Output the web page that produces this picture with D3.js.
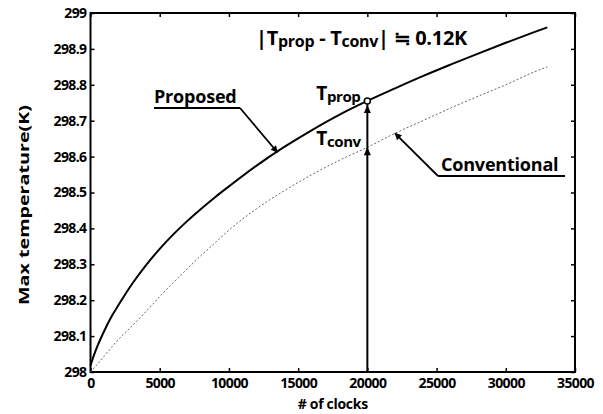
<!DOCTYPE html>
<html>
<head>
<meta charset="utf-8">
<script src="https://cdn.jsdelivr.net/npm/d3@7"></script>
<style>
  body { margin: 0; background: #fff; }
  text { font-family: "Open Sans", sans-serif; font-weight: bold; fill: #000; }
</style>
</head>
<body>
<div id="chart"></div>
<script>
// data
let clocks = [0, 250, 500, 1000, 1500, 2000, 3000, 4000, 5000, 6000, 7000, 8000, 9000, 10000,
  12000, 14000, 16000, 18000, 20000, 22000, 24000, 26000, 28000, 30000, 32000, 33000];
let proposed = [298.018, 298.047, 298.072, 298.115, 298.153, 298.185, 298.245, 298.297, 298.343, 298.384,
  298.421, 298.455, 298.487, 298.517, 298.575, 298.627, 298.674, 298.717, 298.755, 298.79,
  298.824, 298.856, 298.887, 298.917, 298.946, 298.96];
let conventional = [298.0, 298.011, 298.022, 298.045, 298.068, 298.09, 298.128, 298.168, 298.21, 298.25,
  298.288, 298.325, 298.36, 298.395, 298.455, 298.505, 298.55, 298.59, 298.626, 298.665,
  298.70, 298.735, 298.768, 298.80, 298.835, 298.85];
let xTicks = [0, 5000, 10000, 15000, 20000, 25000, 30000, 35000];
let yTicks = [298, 298.1, 298.2, 298.3, 298.4, 298.5, 298.6, 298.7, 298.8, 298.9, 299];
let markClock = 20000;
let tProp = 298.755;
let tConv = 298.626;

let w = 603, h = 414;
let padLeft = 90.5, padRight = 575, padTop = 13, padBottom = 372;

let viz = d3.select("#chart")
  .append("svg")
  .attr("width", w)
  .attr("height", h)
;

let xScale = d3.scaleLinear().domain([0, 35000]).range([padLeft, padRight]);
let yScale = d3.scaleLinear().domain([298, 299]).range([padBottom, padTop]);

// arrow heads
let defs = viz.append("defs");
defs.append("marker")
  .attr("id", "arrow")
  .attr("viewBox", "0 0 10 10")
  .attr("refX", 9).attr("refY", 5)
  .attr("markerWidth", 9).attr("markerHeight", 7)
  .attr("markerUnits", "userSpaceOnUse")
  .attr("orient", "auto")
  .append("path")
  .attr("d", "M0,0 L10,5 L0,10 Z")
  .attr("fill", "#000");

// ticks, pointing inward, on all four sides
let xAxis = d3.axisBottom(xScale).tickValues(xTicks).tickSize(-4).tickPadding(6).tickFormat(d3.format("d"));
let xAxisGroup = viz.append("g").attr("class", "xaxis")
  .attr("transform", "translate(0," + padBottom + ")")
  .call(xAxis);
let yAxis = d3.axisLeft(yScale).tickValues(yTicks).tickSize(-4).tickPadding(4)
  .tickFormat(function(d){ return d3.format(".1f")(d).replace(/\.0$/, ""); });
let yAxisGroup = viz.append("g").attr("class", "yaxis")
  .attr("transform", "translate(" + padLeft + ",0)")
  .call(yAxis);
let xTop = viz.append("g")
  .attr("transform", "translate(0," + padTop + ")")
  .call(d3.axisTop(xScale).tickValues(xTicks).tickSize(-4).tickFormat(""));
let yRight = viz.append("g")
  .attr("transform", "translate(" + padRight + ",0)")
  .call(d3.axisRight(yScale).tickValues(yTicks).tickSize(-4).tickFormat(""));

viz.selectAll(".domain").remove();
viz.selectAll(".tick line").attr("stroke", "#000").attr("stroke-width", 1.5);
viz.selectAll(".xaxis text, .yaxis text")
  .style("font-size", "14px")
  .style("letter-spacing", "-0.6px")
  .attr("fill", "#000");

// frame
viz.append("rect")
  .attr("x", padLeft).attr("y", padTop)
  .attr("width", padRight - padLeft).attr("height", padBottom - padTop)
  .attr("fill", "none")
  .attr("stroke", "#000")
  .attr("stroke-width", 2);

let rows = clocks.map(function(c, i){
  return { c: c, p: proposed[i], v: conventional[i] };
});

let lineProp = d3.line()
  .x(function(d){ return xScale(d.c); })
  .y(function(d){ return yScale(d.p); })
  .curve(d3.curveMonotoneX);
let lineConv = d3.line()
  .x(function(d){ return xScale(d.c); })
  .y(function(d){ return yScale(d.v); })
  .curve(d3.curveMonotoneX);

viz.append("path")
  .datum(rows)
  .attr("d", lineConv)
  .attr("fill", "none")
  .attr("stroke", "#666")
  .attr("stroke-width", 1)
  .attr("stroke-dasharray", "2,2");

viz.append("path")
  .datum(rows)
  .attr("d", lineProp)
  .attr("fill", "none")
  .attr("stroke", "#000")
  .attr("stroke-width", 2);

// vertical marker line at 20000 clocks
let mx = xScale(markClock);
viz.append("line")
  .attr("x1", mx).attr("x2", mx)
  .attr("y1", yScale(298)).attr("y2", yScale(tProp) + 3)
  .attr("stroke", "#000")
  .attr("stroke-width", 2);
viz.append("circle")
  .attr("cx", mx).attr("cy", yScale(tProp))
  .attr("r", 3)
  .attr("fill", "#fff")
  .attr("stroke", "#000")
  .attr("stroke-width", 1.5);
[tProp, tConv].forEach(function(t, i){
  let y = yScale(t) + (i == 0 ? 4 : 0);
  viz.append("path")
    .attr("d", "M" + mx + "," + y + " L" + (mx - 3.5) + "," + (y + 8) + " L" + (mx + 3.5) + "," + (y + 8) + " Z")
    .attr("fill", "#000");
});

// T labels with subscripts
function tLabel(x, y, sub){
  let t = viz.append("text")
    .attr("x", x).attr("y", y)
    .style("font-size", "19px")
    .style("letter-spacing", "-0.4px");
  t.append("tspan").text("T");
  t.append("tspan").attr("dy", 2).style("font-size", "15px").text(sub);
  return t;
}
tLabel(mx - 51, 100, "prop");
tLabel(mx - 51, 145, "conv");

// formula at top
let f = viz.append("text")
  .attr("x", 256).attr("y", 45)
  .style("font-size", "20px")
  .style("letter-spacing", "-0.3px");
f.append("tspan").text("|T");
f.append("tspan").attr("dy", 2).style("font-size", "16px").text("prop");
f.append("tspan").attr("dy", -2).text(" - T");
f.append("tspan").attr("dy", 2).style("font-size", "16px").text("conv");
f.append("tspan").attr("dy", -2).text("| \u2252 0.12K");

// callout labels with underline and arrow
function callout(label, tx, ty, ux1, ux2, uy, tipClock, tipVal){
  viz.append("text")
    .attr("x", tx).attr("y", ty)
    .style("font-size", "18px")
    .style("letter-spacing", "-0.2px")
    .text(label);
  viz.append("line")
    .attr("x1", ux1).attr("x2", ux2)
    .attr("y1", uy).attr("y2", uy)
    .attr("stroke", "#000").attr("stroke-width", 1.8);
  let sx = (label == "Proposed") ? ux2 : ux1;
  viz.append("line")
    .attr("x1", sx).attr("y1", uy)
    .attr("x2", xScale(tipClock)).attr("y2", yScale(tipVal))
    .attr("stroke", "#000").attr("stroke-width", 1.8)
    .attr("marker-end", "url(#arrow)");
}
callout("Proposed", 154, 103, 154, 240, 108, 13500, 298.612);
callout("Conventional", 441, 171, 438, 565, 176, 22000, 298.665);

// axis titles
viz.append("text")
  .attr("x", (padLeft + padRight) / 2).attr("y", 409)
  .attr("text-anchor", "middle")
  .style("font-size", "14px")
  .style("letter-spacing", "-0.3px")
  .text("# of clocks");
viz.append("text")
  .attr("transform", "translate(29," + 205 + ") rotate(-90)")
  .attr("text-anchor", "middle")
  .attr("textLength", 200)
  .attr("lengthAdjust", "spacingAndGlyphs")
  .style("font-size", "15px")
  .text("Max temperature(K)");
</script>
</body>
</html>
